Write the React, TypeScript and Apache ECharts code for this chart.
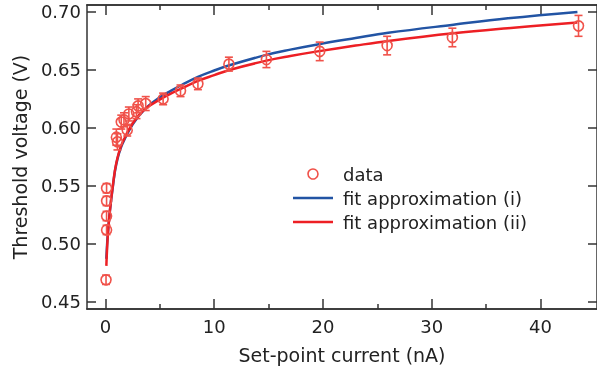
import React, { useEffect, useRef } from "react";
import * as echarts from "echarts";

// measured data: [current (nA), threshold voltage (V), error (V)]
const dataX = [0.05, 0.1, 0.1, 0.1, 0.1, 1.0, 1.1, 1.45, 1.7, 2.0, 2.15, 2.85, 3.0, 3.7, 5.3, 6.9, 8.5, 11.35, 14.8, 19.7, 25.9, 31.9, 43.5];
const dataY = [0.469, 0.512, 0.524, 0.537, 0.548, 0.592, 0.588, 0.605, 0.607, 0.598, 0.612, 0.614, 0.619, 0.621, 0.625, 0.632, 0.638, 0.655, 0.659, 0.666, 0.671, 0.678, 0.688];
const dataErr = [0.004, 0.004, 0.004, 0.004, 0.004, 0.007, 0.007, 0.006, 0.006, 0.005, 0.006, 0.006, 0.006, 0.006, 0.005, 0.005, 0.005, 0.006, 0.007, 0.008, 0.008, 0.008, 0.009];

// fit approximation (i) (blue)
const fit1X = [0.08, 0.2, 0.4, 0.7, 1.0, 1.5, 2.5, 3.6, 5.1, 6.0, 7.0, 8.5, 10, 11.4, 14.8, 17, 19.5, 23, 26, 32, 37, 43.4];
const fit1Y = [0.487, 0.507, 0.528, 0.551, 0.569, 0.585, 0.603, 0.616, 0.627, 0.632, 0.637, 0.644, 0.6495, 0.654, 0.663, 0.6675, 0.672, 0.6775, 0.682, 0.689, 0.6945, 0.7];
// fit approximation (ii) (red)
const fit2X = [0.08, 0.2, 0.4, 0.7, 1.0, 1.5, 2.5, 3.6, 5.1, 6.0, 7.0, 8.5, 10, 11.4, 14.8, 17, 19.5, 23, 26, 32, 37, 43.4];
const fit2Y = [0.481, 0.505, 0.528, 0.552, 0.57, 0.586, 0.604, 0.616, 0.625, 0.6295, 0.634, 0.6405, 0.6455, 0.65, 0.658, 0.662, 0.666, 0.671, 0.675, 0.6816, 0.686, 0.691];

const xMajorTicks = [0, 10, 20, 30, 40];
const xMinorTicks = [5, 15, 25, 35];
const yTicks = [0.45, 0.5, 0.55, 0.6, 0.65, 0.7];

const FONT = "DejaVu Sans";
const AXIS_COLOR = "#333";
const DATA_COLOR = "#f0524a";
const BLUE = "#2254a4";
const RED = "#ed1f24";

export default function App() {
  const ref = useRef<HTMLDivElement>(null);
  useEffect(() => {
    if (!ref.current) return;
    const chart = echarts.init(ref.current, null, { renderer: "svg" });
    const pts = dataX.map((x, i) => [x, dataY[i], dataErr[i]]);
    const f1 = fit1X.map((x, i) => [x, fit1Y[i]]);
    const f2 = fit2X.map((x, i) => [x, fit2Y[i]]);
    const xMin = -1.7;
    const xMax = 45.2;
    const yMin = 0.4438;
    const yMax = 0.706;
    const axisLine = { show: true, onZero: false, lineStyle: { color: AXIS_COLOR, width: 1.5 } };
    const baseX = (pos: string, ticks: number[], len: number, labels: boolean, extra: any = {}) => ({
      type: "value",
      position: pos,
      min: xMin,
      max: xMax,
      axisLine,
      splitLine: { show: false },
      axisTick: { show: true, inside: true, length: len, customValues: ticks, lineStyle: { color: AXIS_COLOR, width: 1.5 } },
      axisLabel: labels
        ? { show: true, customValues: ticks, margin: 8, fontFamily: FONT, fontSize: 18, color: "#222" }
        : { show: false },
      ...extra,
    });
    const lineIcon = "path://M0 0 H40 V2.5 H0 Z";
    chart.setOption({
      animation: false,
      grid: { left: 87, right: -3, top: 5, bottom: 65 },
      xAxis: [
        baseX("bottom", xMajorTicks, 10, true, {
          name: "Set-point current (nA)",
          nameLocation: "middle",
          nameGap: 36,
          nameTextStyle: { fontFamily: FONT, fontSize: 19, color: "#222" },
        }),
        baseX("bottom", xMinorTicks, 5, false),
        baseX("top", xMajorTicks, 10, false),
        baseX("top", xMinorTicks, 5, false),
      ],
      yAxis: [
        {
          type: "value",
          position: "left",
          min: yMin,
          max: yMax,
          axisLine,
          splitLine: { show: false },
          axisTick: { show: true, inside: true, length: 9, customValues: yTicks, lineStyle: { color: AXIS_COLOR, width: 1.5 } },
          axisLabel: {
            show: true,
            customValues: yTicks,
            margin: 6,
            fontFamily: FONT,
            fontSize: 18,
            color: "#222",
            formatter: (v: number) => v.toFixed(2),
          },
          name: "Threshold voltage (V)",
          nameLocation: "middle",
          nameGap: 58,
          nameTextStyle: { fontFamily: FONT, fontSize: 19, color: "#222" },
        },
        {
          type: "value",
          position: "right",
          min: yMin,
          max: yMax,
          axisLine,
          splitLine: { show: false },
          axisTick: { show: true, inside: true, length: 9, customValues: yTicks, lineStyle: { color: AXIS_COLOR, width: 1.5 } },
          axisLabel: { show: false },
        },
      ],
      legend: {
        orient: "vertical",
        left: 288,
        top: 157,
        itemWidth: 40,
        itemHeight: 10,
        itemGap: 0,
        textStyle: { fontFamily: FONT, fontSize: 18, color: "#222", lineHeight: 24, padding: [0, 0, 0, 5] },
        data: [
          { name: "data", icon: "circle", itemStyle: { color: "rgba(0,0,0,0)", borderColor: DATA_COLOR, borderWidth: 1.6 } },
          { name: "fit approximation (i)", icon: lineIcon, itemStyle: { color: BLUE, borderWidth: 0 } },
          { name: "fit approximation (ii)", icon: lineIcon, itemStyle: { color: RED, borderWidth: 0 } },
        ],
      },
      series: [
        {
          name: "fit approximation (i)",
          type: "line",
          data: f1,
          symbol: "none",
          smooth: 0.4,
          lineStyle: { color: BLUE, width: 2.5 },
          itemStyle: { color: BLUE },
          z: 2,
        },
        {
          name: "fit approximation (ii)",
          type: "line",
          data: f2,
          symbol: "none",
          smooth: 0.4,
          lineStyle: { color: RED, width: 2.5 },
          itemStyle: { color: RED },
          z: 3,
        },
        {
          name: "errors",
          type: "custom",
          data: pts,
          z: 4,
          renderItem: (params: any, api: any) => {
            const x = api.value(0);
            const y = api.value(1);
            const e = api.value(2);
            const top = api.coord([x, y + e]);
            const bot = api.coord([x, y - e]);
            const cap = 4;
            const style = { stroke: DATA_COLOR, lineWidth: 1.6, fill: null };
            return {
              type: "group",
              children: [
                { type: "line", shape: { x1: top[0], y1: top[1], x2: bot[0], y2: bot[1] }, style },
                { type: "line", shape: { x1: top[0] - cap, y1: top[1], x2: top[0] + cap, y2: top[1] }, style },
                { type: "line", shape: { x1: bot[0] - cap, y1: bot[1], x2: bot[0] + cap, y2: bot[1] }, style },
              ],
            };
          },
        },
        {
          name: "data",
          type: "scatter",
          data: pts.map((p) => [p[0], p[1]]),
          symbol: "circle",
          symbolSize: 10,
          itemStyle: { color: "rgba(0,0,0,0)", borderColor: DATA_COLOR, borderWidth: 1.6, opacity: 1 },
          z: 5,
        },
      ],
    });
    return () => chart.dispose();
  }, []);
  return <div ref={ref} style={{ width: 597, height: 374, position: "fixed", left: 0, top: 0 }} />;
}
